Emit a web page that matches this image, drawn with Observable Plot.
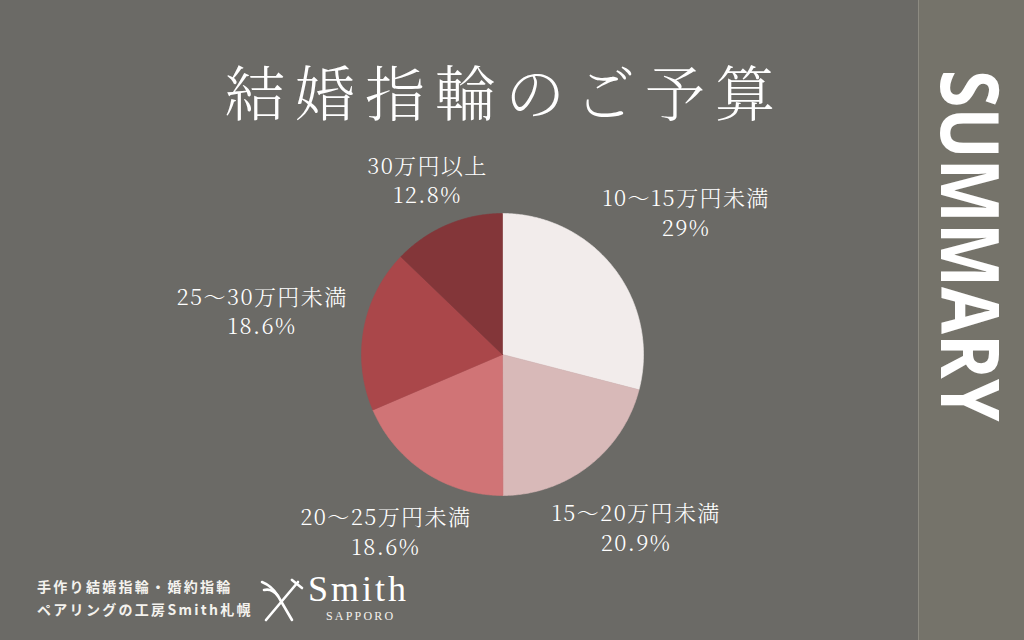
<!DOCTYPE html>
<html><head><meta charset="utf-8">
<script src="https://cdn.jsdelivr.net/npm/d3@7"></script>
<script src="https://cdn.jsdelivr.net/npm/@observablehq/plot@0.6"></script>
<style>
html,body{margin:0;padding:0;background:#6b6a66;}
#wrap{position:relative;width:1024px;height:640px;overflow:hidden;background:#6b6a66;}
#chart{position:absolute;left:0;top:0;}
#title{position:absolute;left:0;width:1000px;top:52px;text-align:center;color:#fff;
  font-family:"Noto Serif CJK JP","Noto Sans CJK JP",sans-serif;font-weight:300;font-size:60px;line-height:76px;letter-spacing:10px;text-indent:10px;}
#panel{position:absolute;left:918px;top:0;width:106px;height:640px;background:#75736a;border-left:1px solid #8d8b82;}
#summary{position:absolute;left:0;width:106px;top:70px;display:flex;justify-content:center;}
#summary span{writing-mode:vertical-rl;font-family:"Open Sans",sans-serif;font-weight:700;font-size:80px;line-height:80px;color:#fff;letter-spacing:0px;transform:scale(1,0.85);transform-origin:50% 0;}
#foot{position:absolute;left:37px;top:575px;color:#f4f2ee;font-family:"Noto Sans CJK JP",sans-serif;font-weight:700;font-size:14px;line-height:23px;letter-spacing:2.3px;}
#logo{position:absolute;left:258px;top:574px;width:170px;height:50px;color:#fff;}
#smith{position:absolute;left:50px;top:-6px;font-family:"Liberation Serif","DejaVu Serif",serif;font-size:36px;letter-spacing:3px;color:#fff;}
#sapporo{position:absolute;left:68px;top:35px;font-family:"Liberation Serif",serif;font-size:12px;letter-spacing:2.2px;color:#f4f2ee;}
</style></head><body>
<div id="wrap">
  <div id="chart"></div>
  <div id="title">結婚指輪のご予算</div>
  <div id="panel"><div id="summary"><span>SUMMARY</span></div></div>
  <div id="foot">手作り結婚指輪・婚約指輪<br>ペアリングの工房Smith札幌</div>
  <div id="logo">
    <svg width="46" height="48" viewBox="0 0 46 48" style="position:absolute;left:0;top:2px">
      <g stroke="#fff" stroke-width="2.6" stroke-linecap="round" fill="none">
        <path d="M4 6 Q14 10 20 20 L34 44"/>
        <path d="M6 14 Q14 12 20 20"/>
        <path d="M40 6 L8 44"/>
        <path d="M34 4 L44 12"/>
      </g>
    </svg>
    <div id="smith">Smith</div>
    <div id="sapporo">SAPPORO</div>
  </div>
</div>
<script>
// ---- data ----
const categories = ["10〜15万円未満", "15〜20万円未満", "20〜25万円未満", "25〜30万円未満", "30万円以上"];
const shares = [29, 20.9, 18.6, 18.6, 12.8];
const shareLabels = ["29%", "20.9%", "18.6%", "18.6%", "12.8%"];
// ---- styles / layout ----
const colors = ["#f2eceb", "#d8b9b8", "#d07476", "#aa474a", "#833639"];
const labelDist = [1.65, 1.55, 1.5, 1.73, 1.35];
const labelDx = [0, 0, 0, 0, -14];

const rows = categories.map((c, i) => ({cat: c, share: shares[i], pct: shareLabels[i], i}));
const arcs = d3.pie().sort(null).value(d => d.share)(rows);

// slice outlines: centre + arc sampled along the circle
const poly = [];
for (const a of arcs) {
  poly.push({cat: a.data.cat, x: 0, y: 0});
  const n = Math.max(2, Math.ceil((a.endAngle - a.startAngle) / 0.01));
  for (let k = 0; k <= n; k++) {
    const t = a.startAngle + (a.endAngle - a.startAngle) * k / n;
    poly.push({cat: a.data.cat, x: Math.sin(t), y: Math.cos(t)});
  }
  poly.push({cat: a.data.cat, x: 0, y: 0});
}
const labels = arcs.map(a => {
  const m = (a.startAngle + a.endAngle) / 2, d = labelDist[a.data.i];
  return {x: d * Math.sin(m), y: d * Math.cos(m), text: a.data.cat + "\n" + a.data.pct, dx: labelDx[a.data.i]};
});

const R = 141, cx = 502, cy = 354;
const chart = Plot.plot({
  width: 1024, height: 640,
  margin: 0,
  x: {domain: [-cx / R, (1024 - cx) / R], range: [0, 1024], axis: null},
  y: {domain: [-(640 - cy) / R, cy / R], range: [640, 0], axis: null},
  color: {domain: categories, range: colors},
  style: {background: "transparent", overflow: "visible"},
  marks: [
    Plot.line(poly, {x: "x", y: "y", z: "cat", fill: "cat", stroke: "cat", strokeWidth: 0.6, curve: "linear"}),
    Plot.text(labels, {x: "x", y: "y", text: "text", dx: "dx", fill: "#ffffff", fontSize: 22, lineHeight: 1.33,
      fontFamily: "'Noto Serif CJK JP','Liberation Serif','Noto Sans CJK JP',serif", fontWeight: 300})
  ]
});
chart.querySelectorAll("text").forEach(t => t.style.letterSpacing = "1.4px");
document.getElementById("chart").appendChild(chart);
</script>
</body></html>
